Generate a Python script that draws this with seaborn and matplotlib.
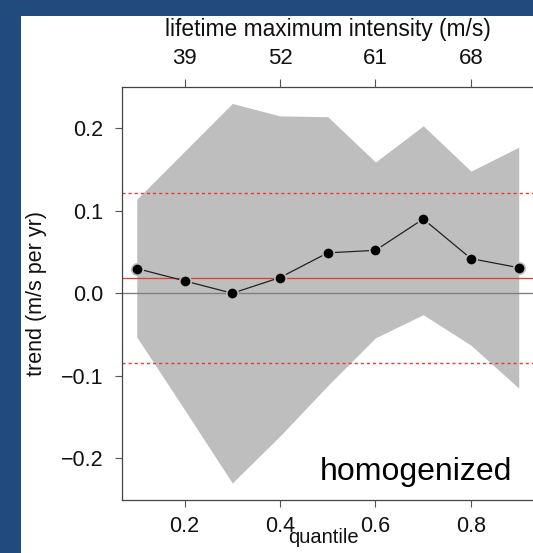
import numpy as np
import pandas as pd
import seaborn as sns
import matplotlib.pyplot as plt
from matplotlib.patches import Rectangle

# values
quantile = [0.1, 0.2, 0.3, 0.4, 0.5, 0.6, 0.7, 0.8, 0.9]
trend = [0.030, 0.015, 0.000, 0.019, 0.049, 0.052, 0.090, 0.042, 0.031]
upper = [0.114, 0.172, 0.230, 0.215, 0.214, 0.159, 0.203, 0.148, 0.177]
lower = [-0.053, -0.141, -0.230, -0.173, -0.112, -0.054, -0.026, -0.063, -0.115]
mean_trend = 0.018
ci_lines = [0.121, -0.085]
bottom_ticks = [0.2, 0.4, 0.6, 0.8]
bottom_labels = ['0.2', '0.4', '0.6', '0.8']
left_ticks = [-0.2, -0.1, 0.0, 0.1, 0.2]
left_labels = ['\u22120.2', '\u22120.1', '0.0', '0.1', '0.2']
top_ticks = [0.2, 0.4, 0.6, 0.8]
top_labels = ['39', '52', '61', '68']

df = pd.DataFrame({'quantile': quantile, 'trend': trend})

sns.set_theme(style="ticks")
plt.rcParams['font.family'] = ['Liberation Sans', 'DejaVu Sans']
plt.rcParams['xtick.bottom'] = True
plt.rcParams['ytick.left'] = True

fig = plt.figure(figsize=(5.33, 5.53), dpi=100, facecolor='#214a7d')
fig.patches.append(Rectangle((21 / 533, 0), 1, 1 - 16 / 553, transform=fig.transFigure,
                             facecolor='white', edgecolor='none', zorder=-10))

ax = fig.add_axes([121.5 / 533, 1 - 499.5 / 553, 412.5 / 533, 412.5 / 553])
ax.set_facecolor('white')

band = '#bebebe'
red = '#e23b35'
ax.fill_between(quantile, lower, upper, color=band, linewidth=0, zorder=1)
ax.axhline(0, color='#808080', lw=1.0, zorder=2)
ax.axhline(mean_trend, color=red, lw=0.9, zorder=2)
for v in ci_lines:
    ax.axhline(v, color=red, lw=1.0, ls=(0, (2.2, 2.2)), zorder=2)

# grey marker edge mimics the gaps of an R type="b" line
sns.lineplot(data=df, x='quantile', y='trend', ax=ax, color='#222222', lw=0.9,
             marker='o', markersize=8.2, markerfacecolor='black',
             markeredgecolor=band, markeredgewidth=1.2, zorder=3)

ax.set_xlim(0.068, 0.932)
ax.set_ylim(-0.25, 0.25)
ax.set_xticks(bottom_ticks)
ax.set_xticklabels(bottom_labels)
ax.set_yticks(left_ticks)
ax.set_yticklabels(left_labels)
ax.tick_params(axis='both', direction='out', length=4.7, width=0.8, color='#555555',
               labelsize=15.5, labelcolor='#111111', bottom=True, left=True)
ax.tick_params(axis='y', pad=8.5)
ax.tick_params(axis='x', pad=7.5)
ax.set_xlabel('quantile', fontsize=14.5, color='#111111')
ax.xaxis.set_label_coords(0.49, -0.07)
ax.set_ylabel('trend (m/s per yr)', fontsize=15.5, color='#111111', labelpad=10)

for side in ['left', 'bottom', 'top', 'right']:
    ax.spines[side].set_visible(True)
    ax.spines[side].set_color('#444444')
    ax.spines[side].set_linewidth(0.9)

ax.text(0.947, 0.047, 'homogenized', transform=ax.transAxes, ha='right', va='baseline',
        fontsize=23, color='black')

top = ax.twiny()
top.set_xlim(ax.get_xlim())
top.set_xticks(top_ticks)
top.set_xticklabels(top_labels)
top.tick_params(axis='x', direction='out', length=5.5, width=0.8, color='#555555',
                labelsize=16, labelcolor='#111111', pad=7.3, top=True)
top.set_xlabel('lifetime maximum intensity (m/s)', fontsize=16.4, color='#111111', labelpad=8.5)
for side in ['left', 'bottom', 'top', 'right']:
    top.spines[side].set_visible(False)

fig.savefig('out.png', dpi=100, facecolor=fig.get_facecolor())
